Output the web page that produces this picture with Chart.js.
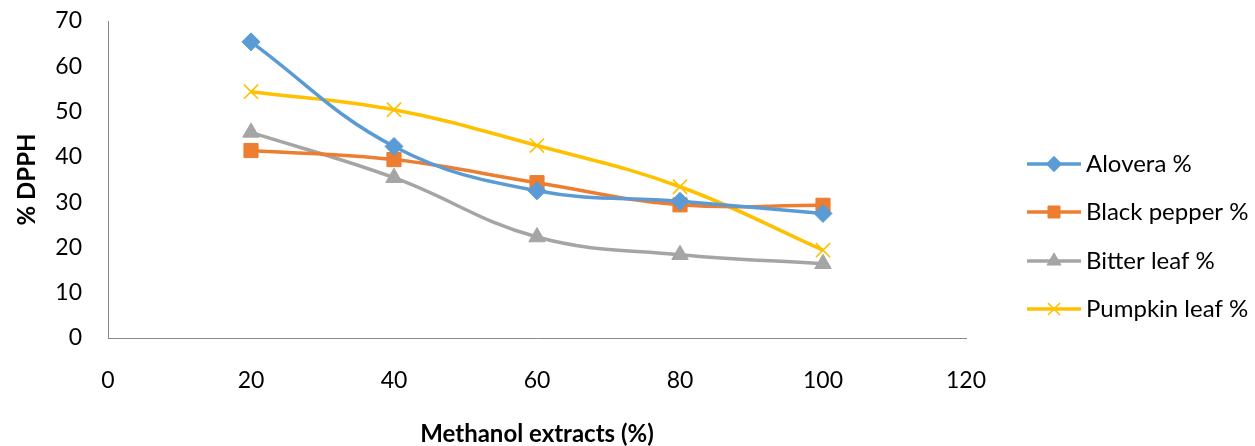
<!DOCTYPE html>
<html>
<head>
<meta charset="utf-8">
<script src="https://cdn.jsdelivr.net/npm/chart.js@4.4.1/dist/chart.umd.min.js"></script>
<style>
  html, body { margin: 0; padding: 0; background: #ffffff; }
  #wrap { width: 1255px; height: 446px; position: relative; }
</style>
</head>
<body>
<div id="wrap"><canvas id="c" width="1255" height="446"></canvas></div>
<script>
// Methanol extract concentrations (%)
const extracts = [20, 40, 60, 80, 100];

// % DPPH scavenging per extract
const alovera = [65.4, 42.3, 32.5, 30.2, 27.5];
const blackPepper = [41.4, 39.4, 34.3, 29.4, 29.3];
const bitterLeaf = [45.4, 35.4, 22.3, 18.4, 16.4];
const pumpkinLeaf = [54.4, 50.4, 42.5, 33.4, 19.4];

const seriesNames = ['Alovera %', 'Black pepper %', 'Bitter leaf %', 'Pumpkin leaf %'];

const xTicks = [0, 20, 40, 60, 80, 100, 120];
const yTicks = [0, 10, 20, 30, 40, 50, 60, 70];

const FONT = 'Lato, "Liberation Sans", sans-serif';
const FONT_SIZE = 23;
const LEGEND_SIZE = 24;
const TITLE_SIZE = 24;

function pts(values) {
  return extracts.map((x, i) => ({ x: x, y: values[i] }));
}

const styles = [
  { color: '#5B9BD5', pointStyle: 'rectRot', radius: 9, borderWidth: 1 },
  { color: '#ED7D31', pointStyle: 'rect', radius: 10, borderWidth: 1 },
  { color: '#A5A5A5', pointStyle: 'triangle', radius: 9.5, borderWidth: 1 },
  { color: '#FFC000', pointStyle: 'crossRot', radius: 10, borderWidth: 1.6 }
];

const seriesValues = [alovera, blackPepper, bitterLeaf, pumpkinLeaf];

const datasets = seriesValues.map((vals, i) => ({
  label: seriesNames[i],
  data: pts(vals),
  borderColor: styles[i].color,
  backgroundColor: styles[i].color,
  borderWidth: 3.5,
  tension: 0.4,
  pointStyle: styles[i].pointStyle,
  pointRadius: styles[i].radius,
  pointHoverRadius: styles[i].radius,
  pointBorderWidth: styles[i].borderWidth,
  pointBorderColor: styles[i].color,
  pointBackgroundColor: styles[i].color,
  clip: false
}));

// Legend with a line segment and the series marker in the middle
const sideLegend = {
  id: 'sideLegend',
  afterDraw(chart) {
    const ctx = chart.ctx;
    const rowsY = [164, 212, 261, 309];
    const x0 = 1027, x1 = 1081;
    ctx.save();
    chart.data.datasets.forEach((ds, i) => {
      const y = rowsY[i];
      ctx.strokeStyle = ds.borderColor;
      ctx.lineWidth = 3.5;
      ctx.lineCap = 'butt';
      ctx.beginPath();
      ctx.moveTo(x0, y);
      ctx.lineTo(x1, y);
      ctx.stroke();
      ctx.fillStyle = ds.borderColor;
      ctx.strokeStyle = ds.borderColor;
      ctx.lineWidth = ds.pointBorderWidth;
      Chart.helpers.drawPoint(ctx, {
        pointStyle: ds.pointStyle,
        radius: ds.pointRadius * 0.85,
        rotation: 0,
        borderWidth: ds.pointBorderWidth
      }, (x0 + x1) / 2, y);
      ctx.fillStyle = '#000000';
      ctx.font = LEGEND_SIZE + 'px ' + FONT;
      ctx.textAlign = 'left';
      ctx.textBaseline = 'middle';
      ctx.fillText(ds.label, 1086, y);
    });
    ctx.restore();
  }
};

new Chart(document.getElementById('c'), {
  type: 'line',
  data: { datasets: datasets },
  plugins: [sideLegend],
  options: {
    responsive: false,
    animation: false,
    events: [],
    layout: { padding: { left: 0, right: 289, top: 21, bottom: 0 } },
    plugins: {
      legend: { display: false },
      tooltip: { enabled: false }
    },
    scales: {
      x: {
        type: 'linear',
        min: 0,
        max: 120,
        afterBuildTicks(scale) { scale.ticks = xTicks.map(v => ({ value: v })); },
        afterFit(scale) { scale.height = 446 - 338; scale.paddingLeft = 0; scale.paddingRight = 0; },
        grid: { display: false, drawTicks: false },
        border: { display: true, color: '#898989', width: 1 },
        ticks: { color: '#000000', font: { family: FONT, size: FONT_SIZE }, padding: 29, maxRotation: 0 },
        title: {
          display: true,
          text: 'Methanol extracts (%)',
          color: '#000000',
          font: { family: FONT, size: TITLE_SIZE, weight: 'bold' },
          padding: { top: 0, bottom: -3 }
        }
      },
      y: {
        type: 'linear',
        min: 0,
        max: 70,
        afterBuildTicks(scale) { scale.ticks = yTicks.map(v => ({ value: v })); },
        afterFit(scale) { scale.width = 108; scale.paddingTop = 0; scale.paddingBottom = 0; },
        grid: { display: false, drawTicks: false },
        border: { display: true, color: '#898989', width: 1 },
        ticks: { color: '#000000', font: { family: FONT, size: FONT_SIZE }, padding: 26 },
        title: {
          display: true,
          text: '% DPPH',
          color: '#000000',
          font: { family: FONT, size: TITLE_SIZE, weight: 'bold' },
          padding: { top: 13, bottom: 0 }
        }
      }
    }
  }
});
</script>
</body>
</html>
